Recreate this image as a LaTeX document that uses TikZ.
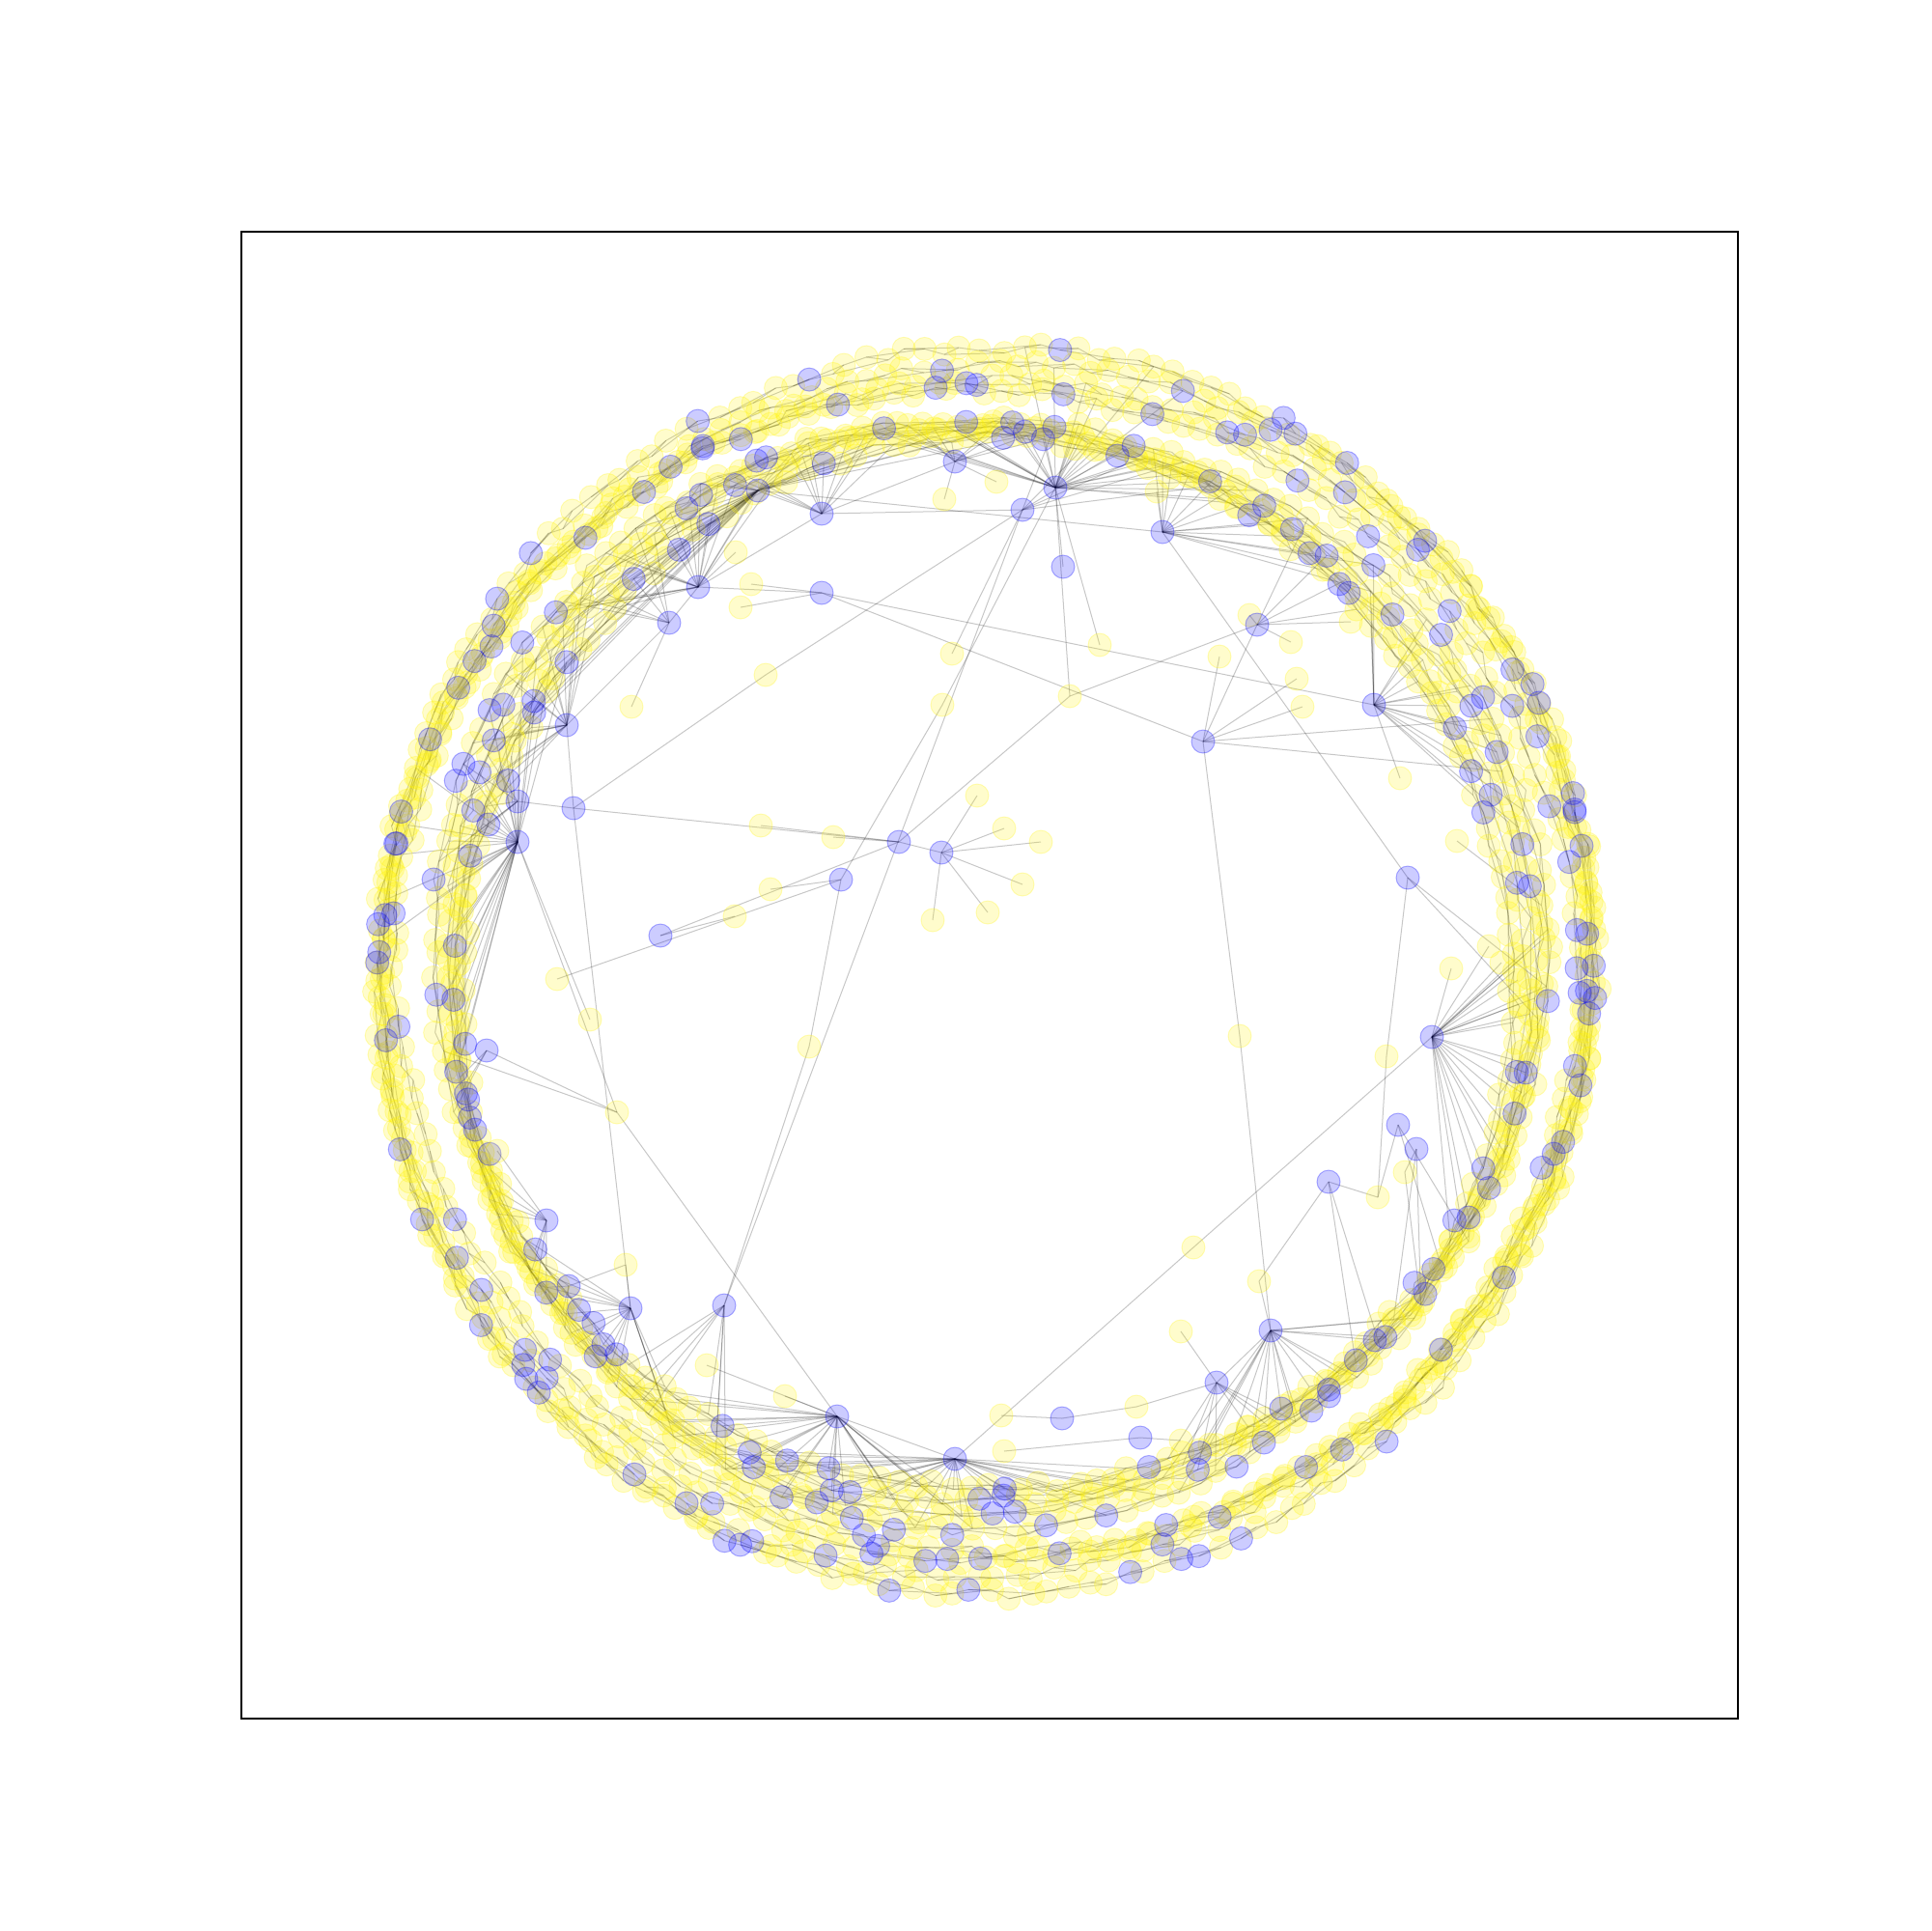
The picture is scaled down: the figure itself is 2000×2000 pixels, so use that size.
\documentclass[tikz,border=0pt]{standalone}
\usepackage{tikz}
\pgfdeclarelayer{edgelayer}
\pgfsetlayers{edgelayer,main}

\tikzset{
    ynode/.style={circle, inner sep=0pt, minimum size=2.4mm, fill=yellow, fill opacity=0.2,
        draw=yellow, draw opacity=0.25, line width=0.1mm},
    bnode/.style={ynode, fill=blue, draw=blue, draw opacity=0.3},
    link/.style={black, draw opacity=0.22, line width=0.1mm}
}

\begin{document}
\begin{tikzpicture}[x=0.1mm, y=-0.1mm]
\useasboundingbox (0,0) rectangle (2000,2000);
\draw[line width=0.12mm] (250,240) rectangle (1800,1780);

% outer band: four strands, yellow first, then blue
\foreach \pass in {0,1}{
  \pgfmathsetseed{42}
  \foreach \s in {0,...,3}{
    \foreach \i in {0,...,199}{
      \pgfmathsetmacro\ang{\i*1.8+\s*0.45+0.8*(rnd-0.5)}
      \pgfmathsetmacro\rad{623+(\s-1.5)*10+8*sin(2*\ang+40+70*\s)+12*(rnd-0.5)}
      \pgfmathsetmacro\pick{rnd}
      \pgfmathsetmacro\px{1022+\rad*cos(\ang)}
      \pgfmathsetmacro\py{1005+\rad*sin(\ang)}
      \ifdim\pick pt<0.16pt
        \ifnum\pass=1 \node[bnode] (ro\s-\i) at (\px,\py) {};\fi
      \else
        \ifnum\pass=0 \node[ynode] (ro\s-\i) at (\px,\py) {};\fi
      \fi
    }
  }
}

% inner band
\foreach \pass in {0,1}{
  \pgfmathsetseed{77}
  \foreach \s in {0,...,3}{
    \foreach \i in {0,...,179}{
      \pgfmathsetmacro\ang{\i*2+\s*0.5+0.8*(rnd-0.5)}
      \pgfmathsetmacro\rad{561+(\s-1.5)*10+8*sin(3*\ang+50*\s)+12*(rnd-0.5)}
      \pgfmathsetmacro\pick{rnd}
      \pgfmathsetmacro\px{1022+\rad*cos(\ang)}
      \pgfmathsetmacro\py{1005+\rad*sin(\ang)}
      \ifdim\pick pt<0.16pt
        \ifnum\pass=1 \node[bnode] (ri\s-\i) at (\px,\py) {};\fi
      \else
        \ifnum\pass=0 \node[ynode] (ri\s-\i) at (\px,\py) {};\fi
      \fi
    }
  }
}

% inner yellow nodes
\foreach \nm/\x/\y in {v1/978/517, v2/1139/668, v3/986/677, v4/976/730, v5/1108/721,
    v6/793/699, v7/654/732, v8/767/629, v9/1450/806, v10/1509/871, v11/1349/732,
    v12/1343/703, v13/1263/680, v14/1337/665, v15/1399/644, v16/788/855, v17/863/867,
    v18/798/921, v19/761/949, v20/577/1014, v21/611/1056, v22/838/1084, v23/639/1152,
    v24/1284/1073, v25/1436/1094, v26/1427/1240, v27/1455/1214, v28/1236/1292,
    v29/1304/1327, v30/1223/1379, v31/648/1310, v32/813/1446, v33/732/1414,
    v34/1037/1466, v35/1040/1503, v36/1177/1457, v37/1223/1492, v38/1503/1003,
    v39/1542/980, v40/1555/997, v41/1572/1015, v42/1573/1040, v43/515/1192,
    v44/1294/637, v45/1198/509, v46/1032/499, v47/778/605, v48/762/572,
    w1/1012/824, w2/1040/858, w3/1078/872, w4/1059/916, w5/1023/945, w6/966/953}
  \node[ynode] (\nm) at (\x,\y) {};

% inner blue nodes
\foreach \nm/\x/\y in {u1/989/478, u2/1093/505, u3/1059/528, u4/1204/551, u5/851/532,
    u6/851/614, u7/723/608, u8/693/645, u9/1101/587, u10/1302/647, u11/1423/730,
    u12/1246/768, u13/587/751, u14/594/837, u15/536/830, u16/536/872, u17/931/872,
    u18/975/883, u19/871/911, u20/684/969, u21/504/1088, u22/1458/909, u23/1483/1074,
    u24/1448/1165, u25/1467/1190, u26/1376/1224, u27/566/1264, u28/589/1332,
    u29/653/1355, u30/750/1352, u31/1316/1378, u32/1260/1432, u33/867/1467,
    u34/989/1511, u35/1100/1469, u36/1181/1489, u38/785/508}
  \node[bnode] (\nm) at (\x,\y) {};

\begin{pgfonlayer}{edgelayer}
% chains along the strands
\foreach \s in {0,...,3}{
  \foreach \i in {0,...,199}{
    \pgfmathtruncatemacro\j{mod(\i+1,200)}
    \pgfmathtruncatemacro\k{mod(\i+3,200)}
    \draw[link] (ro\s-\i.center) -- (ro\s-\j.center);
    \ifodd\i \draw[link] (ro\s-\i.center) -- (ro\s-\k.center);\fi
  }
  \foreach \i in {0,...,179}{
    \pgfmathtruncatemacro\j{mod(\i+1,180)}
    \pgfmathtruncatemacro\k{mod(\i+4,180)}
    \draw[link] (ri\s-\i.center) -- (ri\s-\j.center);
    \ifodd\i \draw[link] (ri\s-\i.center) -- (ri\s-\k.center);\fi
  }
}

% fans from hubs to the bands
\foreach \h/\r/\nr/\ac/\sp/\n in {u2/ri/180/278/44/26, u2/ro/200/280/20/6,
    u4/ri/180/300/30/14, u5/ri/180/250/22/12, u7/ri/180/233/30/18, u8/ri/180/226/14/6,
    u13/ri/180/210/30/18, u16/ri/180/192/50/32, u16/ro/200/190/20/5, u15/ri/180/196/16/6,
    u11/ri/180/328/34/18, u23/ri/180/12/40/20, u31/ri/180/54/34/18, u32/ri/180/62/18/8,
    u34/ri/180/94/50/30, u33/ri/180/110/40/26, u30/ri/180/124/20/8, u29/ri/180/136/30/16,
    u27/ri/180/150/18/8, u28/ri/180/142/10/4, u1/ri/180/268/18/8, u21/ri/180/166/8/3,
    u22/ri/180/2/6/2, u38/ri/180/222/44/24, u38/ri/180/262/30/10, u10/ri/180/310/16/4,
    u12/ri/180/335/10/2, u26/ri/180/45/8/2, u25/ri/180/38/6/2, u24/ri/180/30/6/2,
    u3/ri/180/285/20/6, v23/ri/180/170/6/1, v10/ri/180/352/4/1, v27/ri/180/36/4/1}{
  \foreach \k in {1,...,\n}{
    \pgfmathtruncatemacro\idx{mod(round((\ac-\sp/2+\sp*(\k-0.5)/\n)/360*\nr)+\nr,\nr)}
    \pgfmathtruncatemacro\st{mod(\k*3,4)}
    \draw[link] (\h.center) -- (\r\st-\idx.center);
  }
}

% links inside the ring
\foreach \a/\b in {u3/u30, u3/v6, v6/u14, u2/v5, u2/u9, u2/v4, u2/v2, u17/v5, v5/u10,
    v4/u19, u19/v20, u17/u20, u17/u14, u17/v17, u17/u18, u18/w1, u18/w2, u18/w3,
    u18/w4, u18/w5, u18/w6, u19/v22, v22/u30, u12/u10, u12/v13, u12/v12, u12/v11,
    u12/u6, u12/v24, v24/u31, u6/u11, u6/v8, u6/u7, u7/u8, u8/v7, u8/u13, u13/u14,
    u14/u15, u14/u29, u5/u1, u5/u7, u5/u3, u4/u22, u4/u38, u22/v25, u11/v9, u10/v15,
    u10/v14, u10/v44, u4/v45, u23/v28, v28/u34, u23/v38, u23/v39, u23/v40, u23/v41,
    u23/v42, u26/v26, u26/v29, v29/u31, u24/v26, u25/v27, v25/v26, u31/u32, u32/v30,
    u32/v36, u35/v34, u35/v36, u36/v35, u36/v37, u34/u33, u33/v32, u33/v33, u16/v23,
    v23/u33, v23/u21, u29/v31, u28/v31, u27/v43, u1/v1, v3/u3, v16/u17, v18/u19,
    v19/u20, v21/u16, v46/u1, u6/v47, u7/v48}
  \draw[link] (\a.center) -- (\b.center);
\end{pgfonlayer}
\end{tikzpicture}
\end{document}
